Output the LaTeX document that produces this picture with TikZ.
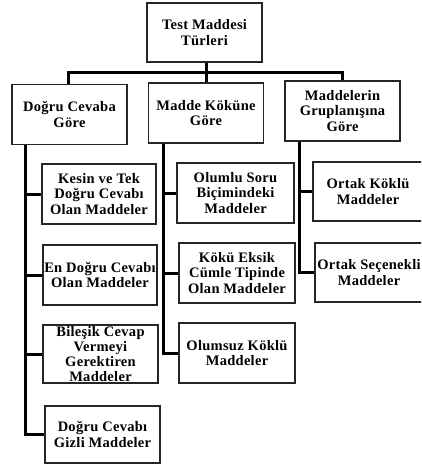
\documentclass[tikz,border=0pt]{standalone}
\usepackage{fontspec}
\setmainfont{Liberation Serif}[LetterSpace=2]
\begin{document}
\begin{tikzpicture}[x=1pt,y=-1pt,
  box/.style={draw=black!85,line width=1.3pt,fill=white,minimum width=115pt,minimum height=60pt,
    align=center,inner sep=0pt,font=\fontsize{14.5}{15.2}\selectfont\bfseries},
  link/.style={line width=3pt,black}]
\useasboundingbox (0,0) rectangle (421,465);
\clip (0,0) rectangle (421,465);
% root
\node[box,minimum height=59pt] (top) at (204.5,32.5) {Test Maddesi\\Türleri};
% first level
\node[box] (A) at (69.5,114.5) {Doğru Cevaba\\Göre};
\node[box] (B) at (206,113) {Madde Köküne\\Göre};
\node[box] (C) at (342.5,111) {Maddelerin\\Gruplanışına\\Göre};
% under "Doğru Cevaba Göre"
\node[box,minimum width=114pt] (A1) at (99,194) {Kesin ve Tek\\Doğru Cevabı\\Olan Maddeler};
\node[box,minimum width=114pt] (A2) at (100,275) {En Doğru Cevabı\\Olan Maddeler};
\node[box,minimum height=58pt] (A3) at (100.5,354) {Bileşik Cevap\\Vermeyi\\Gerektiren\\Maddeler};
\node[box,minimum height=57pt] (A4) at (102.5,434.5) {Doğru Cevabı\\Gizli Maddeler};
% under "Madde Köküne Göre"
\node[box,minimum width=117pt] (B1) at (235.5,193) {Olumlu Soru\\Biçimindeki\\Maddeler};
\node[box,minimum width=116pt] (B2) at (237,273) {Kökü Eksik\\Cümle Tipinde\\Olan Maddeler};
\node[box,minimum width=116pt] (B3) at (237,353) {Olumsuz Köklü\\Maddeler};
% under "Maddelerin Gruplanışına Göre"
\node[box,minimum width=110pt,minimum height=59pt] (C1) at (368,191.5) {Ortak Köklü\\Maddeler};
\node[box,minimum width=108pt,minimum height=59pt] (C2) at (369,272.5) {Ortak Seçenekli\\Maddeler};
% connectors from the root
\draw[link] ([xshift=1.5pt]top.south) -- ++(0,10) -| ([xshift=-1.5pt]A.north);
\draw[link] ([xshift=1.5pt]top.south) -- (B.north);
\draw[link] ([xshift=1.5pt]top.south) -- ++(0,10) -| (C.north);
% spines
\draw[link] ([xshift=-44pt]A.south) |- (A1.west);
\draw[link] ([xshift=-44pt]A.south) |- (A2.west);
\draw[link] ([xshift=-44pt]A.south) |- (A3.west);
\draw[link] ([xshift=-44pt]A.south) |- (A4.west);
\draw[link] ([xshift=-43pt]B.south) |- (B1.west);
\draw[link] ([xshift=-43pt]B.south) |- (B2.west);
\draw[link] ([xshift=-43pt]B.south) |- (B3.west);
\draw[link] ([xshift=-43pt]C.south) |- (C1.west);
\draw[link] ([xshift=-43pt]C.south) |- (C2.west);
\end{tikzpicture}
\end{document}
